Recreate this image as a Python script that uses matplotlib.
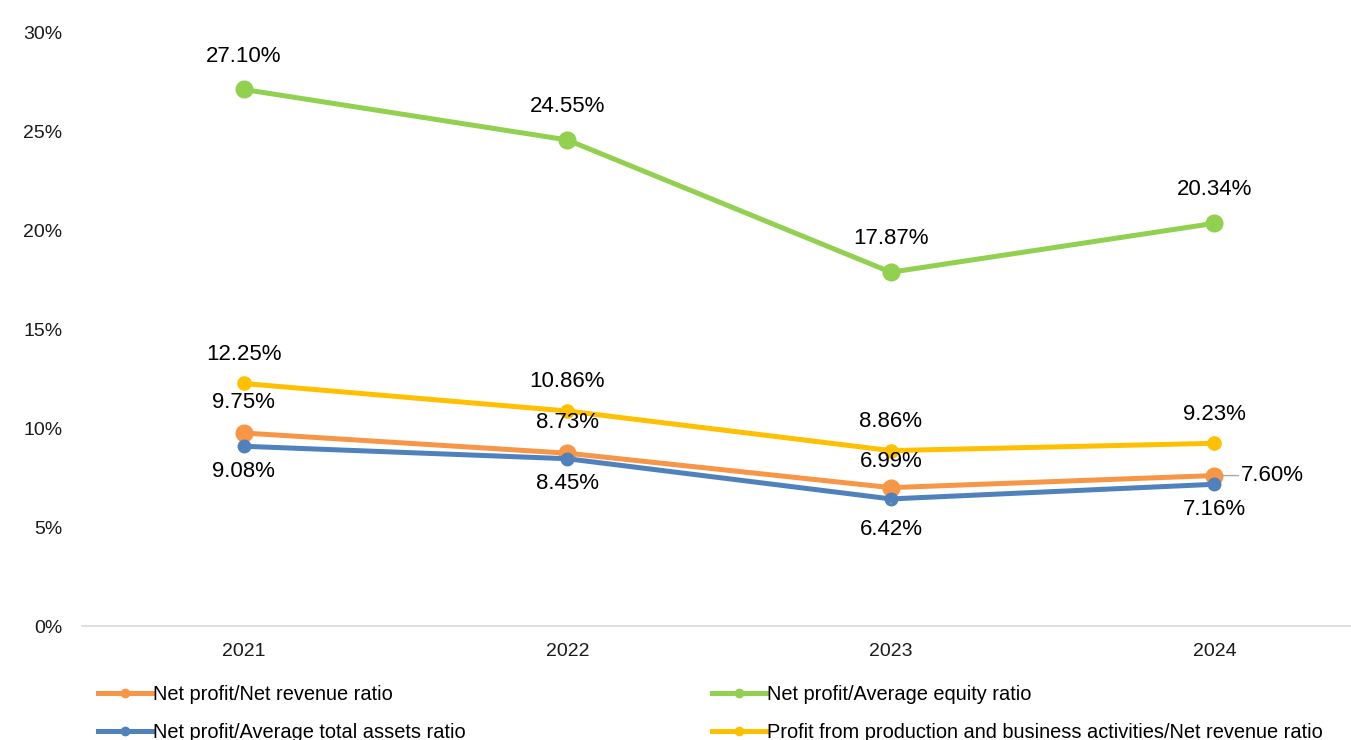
import matplotlib.pyplot as plt
from matplotlib.lines import Line2D

plt.rcParams['font.family'] = ['Liberation Sans', 'DejaVu Sans']

years = ['2021', '2022', '2023', '2024']
net_rev = [9.75, 8.73, 6.99, 7.60]
net_equity = [27.10, 24.55, 17.87, 20.34]
net_assets = [9.08, 8.45, 6.42, 7.16]
prod_rev = [12.25, 10.86, 8.86, 9.23]

labels = ['Net profit/Net revenue ratio',
          'Net profit/Average equity ratio',
          'Net profit/Average total assets ratio',
          'Profit from production and business activities/Net revenue ratio']
c_orange = '#F79646'
c_green = '#92D050'
c_blue = '#4F81BD'
c_yellow = '#FFC000'

fig = plt.figure(figsize=(13.51, 7.40), dpi=100)
ax = fig.add_axes([0.0607, 0.154, 0.958, 0.8027])
x = list(range(len(years)))

lw = 3.6
ax.plot(x, net_rev, color=c_orange, lw=lw, marker='o', ms=12, zorder=3)
ax.plot(x, net_assets, color=c_blue, lw=lw, marker='o', ms=9, zorder=4)
ax.plot(x, net_equity, color=c_green, lw=lw, marker='o', ms=12, zorder=3)
ax.plot(x, prod_rev, color=c_yellow, lw=lw, marker='o', ms=9.5, zorder=3)

ax.set_xlim(-0.5, 3.5)
ax.set_ylim(0, 30)
yt = [0, 5, 10, 15, 20, 25, 30]
ax.set_yticks(yt)
ax.set_yticklabels([f'{v}%' for v in yt])
ax.set_xticks(x)
ax.set_xticklabels(years)
for s in ['top', 'right', 'left']:
    ax.spines[s].set_visible(False)
ax.spines['bottom'].set_color('#D9D9D9')
ax.spines['bottom'].set_linewidth(1.2)
ax.tick_params(axis='both', length=0, labelsize=14, colors='#1a1a1a')
ax.tick_params(axis='x', pad=12)
ax.tick_params(axis='y', pad=14)

fs = 16
def lab(xi, v, dx, dy, ha='center', va='center'):
    ax.annotate(f'{v:.2f}%', (xi, v), xytext=(dx, dy), textcoords='offset points',
                ha=ha, va=va, fontsize=fs, color='#000000', zorder=6)

for i, v in enumerate(net_equity):
    lab(i, v, 0, 24)
for i, v in enumerate(prod_rev):
    lab(i, v, 0, 21)
for i, v in enumerate(net_rev[:3]):
    lab(i, v, 0, 19 if i == 2 else 22)
ax.annotate(f'{net_rev[3]:.2f}%', (3, net_rev[3]), xytext=(42, 0), textcoords='offset points',
            ha='center', va='center', fontsize=fs, color='#000000', zorder=6,
            arrowprops=dict(arrowstyle='-', color='#A6A6A6', lw=1, shrinkA=22, shrinkB=5))
for i, v in enumerate(net_assets):
    if i == 2:
        ax.annotate(f'{v:.2f}%', (i, v), xytext=(0, -22), textcoords='offset points',
                    ha='center', va='center', fontsize=fs, color='#000000', zorder=6,
                    arrowprops=dict(arrowstyle='-', color='#A6A6A6', lw=1, shrinkA=9, shrinkB=3))
    else:
        lab(i, v, 0, -18)

def handle(c):
    return Line2D([], [], color=c, lw=3.6, marker='o', ms=6)

kw = dict(loc='upper left', frameon=False, fontsize=14.4, handlelength=2.7,
          handletextpad=0.05, labelspacing=0.95, borderaxespad=0, borderpad=0)
leg1 = fig.legend([handle(c_orange), handle(c_blue)], [labels[0], labels[2]],
                  bbox_to_anchor=(0.0725, 0.074), **kw)
leg2 = fig.legend([handle(c_green), handle(c_yellow)], [labels[1], labels[3]],
                  bbox_to_anchor=(0.527, 0.074), **kw)
for lg in (leg1, leg2):
    for t in lg.get_texts():
        t.set_color('#000000')

fig.savefig('out.png', dpi=100)
